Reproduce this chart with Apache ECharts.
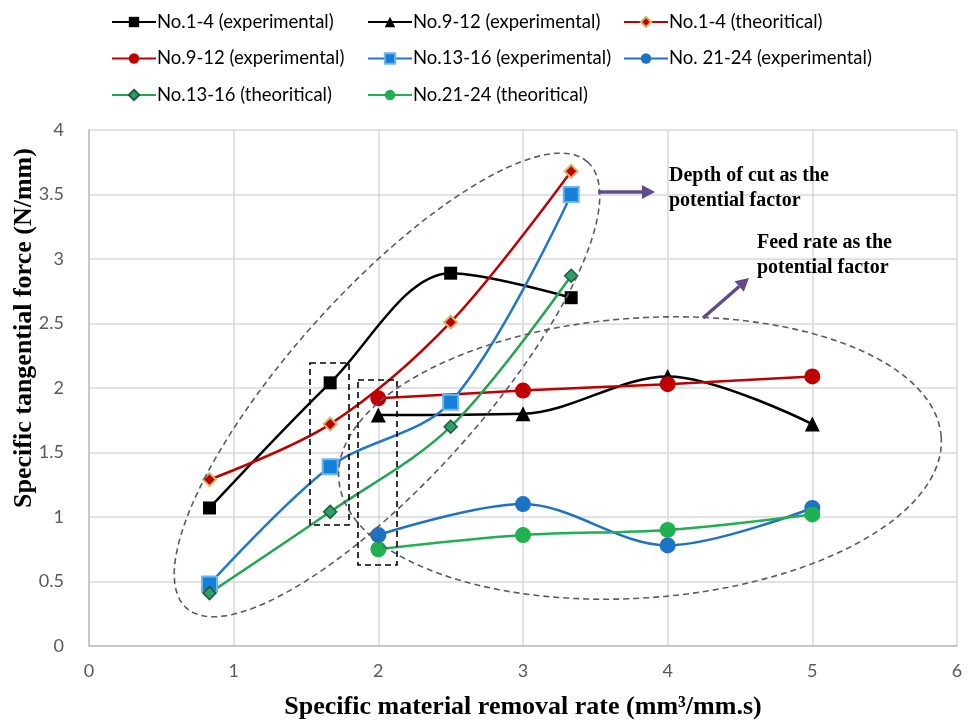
<!DOCTYPE html>
<html>
<head>
<meta charset="utf-8">
<script src="https://cdn.jsdelivr.net/npm/echarts@6/dist/echarts.min.js"></script>
<style>html,body{margin:0;padding:0;background:#fff}#c{width:973px;height:720px}</style>
</head>
<body>
<div id="c"></div>
<script>
// ---- data ----
var xTicks = [0, 1, 2, 3, 4, 5, 6];
var yTicks = [0, 0.5, 1, 1.5, 2, 2.5, 3, 3.5, 4];
var xDepth = [0.833, 1.667, 2.5, 3.333];
var xFeed = [2, 3, 4, 5];
var no1_4Exp = [1.07, 2.04, 2.89, 2.70];
var no9_12ExpA = [1.79, 1.80, 2.09, 1.72];
var no1_4Theo = [1.29, 1.72, 2.51, 3.68];
var no9_12ExpB = [1.92, 1.98, 2.03, 2.09];
var no13_16Exp = [0.48, 1.39, 1.89, 3.50];
var no21_24Exp = [0.86, 1.10, 0.78, 1.07];
var no13_16Theo = [0.41, 1.04, 1.70, 2.87];
var no21_24Theo = [0.75, 0.86, 0.90, 1.02];
var names = ['No.1-4 (experimental)', 'No.9-12 (experimental)', 'No.1-4 (theoritical)',
             'No.9-12 (experimental) ', 'No.13-16 (experimental)', 'No. 21-24 (experimental)',
             'No.13-16 (theoritical)', 'No.21-24 (theoritical)'];

function pairs(xs, ys) { return xs.map(function (x, i) { return [x, ys[i]]; }); }

function mkSeries(name, xs, ys, color, symbol, size, itemStyle) {
  return {
    name: name, type: 'line', smooth: 0.33, data: pairs(xs, ys),
    symbol: symbol, symbolSize: size,
    lineStyle: { color: color, width: 2.5 },
    itemStyle: Object.assign({ color: color }, itemStyle || {}),
    emphasis: { disabled: true }, z: 3
  };
}

function ellipse(cx, cy, a, b, deg) {
  var th = deg * Math.PI / 180, pts = [];
  for (var i = 0; i < 120; i++) {
    var t = i / 120 * Math.PI * 2;
    var ex = a * Math.cos(t), ey = b * Math.sin(t);
    pts.push([cx + ex * Math.cos(th) - ey * Math.sin(th), cy - (ex * Math.sin(th) + ey * Math.cos(th))]);
  }
  return pts;
}

function arrow(x1, y1, x2, y2, color) {
  var dx = x2 - x1, dy = y2 - y1, L = Math.sqrt(dx * dx + dy * dy);
  var ux = dx / L, uy = dy / L, hl = 13, hw = 7;
  var bx = x2 - ux * hl, by = y2 - uy * hl;
  return [
    { type: 'line', shape: { x1: x1, y1: y1, x2: bx, y2: by }, style: { stroke: color, lineWidth: 3.5 }, z: 20 },
    { type: 'polygon', shape: { points: [[x2, y2], [bx - uy * hw, by + ux * hw], [bx + uy * hw, by - ux * hw]] }, style: { fill: color }, z: 20 }
  ];
}

var chart = echarts.init(document.getElementById('c'), null, { renderer: 'canvas' });
var tickFont = { color: '#595959', fontSize: 18, fontFamily: 'Lato' };
var legendBase = {
  orient: 'vertical', top: 7, itemWidth: 44, itemHeight: 13, itemGap: 16.5,
  textStyle: { fontSize: 18.5, fontFamily: 'Lato', color: '#000', lineHeight: 20, padding: [0, 0, 0, -4] },
  formatter: function (n) { return n.trim(); },
  selectedMode: false
};
var purple = '#5F4B8B';
var graphics = [
  { type: 'polygon', shape: { points: ellipse(387, 385, 300, 95, 48) }, style: { fill: 'none', stroke: '#5A5870', lineWidth: 1.6, lineDash: [6, 4] }, z: 10 },
  { type: 'polygon', shape: { points: ellipse(640, 458, 302, 140, 4) }, style: { fill: 'none', stroke: '#5A5870', lineWidth: 1.6, lineDash: [6, 4] }, z: 10 },
  { type: 'rect', shape: { x: 310, y: 363, width: 39, height: 162 }, style: { fill: 'none', stroke: '#000', lineWidth: 1.6, lineDash: [6, 4] }, z: 10 },
  { type: 'rect', shape: { x: 358, y: 380, width: 39, height: 185 }, style: { fill: 'none', stroke: '#000', lineWidth: 1.6, lineDash: [6, 4] }, z: 10 },
  { type: 'text', x: 669, y: 163, style: { text: 'Depth of cut as the\npotential factor', font: 'bold 20px "Liberation Serif"', fill: '#000', lineHeight: 25 }, z: 20 },
  { type: 'text', x: 757, y: 230, style: { text: 'Feed rate as the\npotential factor', font: 'bold 20px "Liberation Serif"', fill: '#000', lineHeight: 25 }, z: 20 }
].concat(arrow(598, 192, 655, 192, purple)).concat(arrow(703, 318, 749, 278, purple));

chart.setOption({
  animation: false,
  backgroundColor: '#fff',
  grid: { left: 89, right: 16, top: 130, bottom: 74, containLabel: false, outerBoundsMode: 'none' },
  legend: [
    Object.assign({}, legendBase, { left: 106, data: [names[0], names[3], names[6]] }),
    Object.assign({}, legendBase, { left: 362, data: [names[1], names[4], names[7]] }),
    Object.assign({}, legendBase, { left: 618, data: [names[2], names[5]] })
  ],
  xAxis: {
    type: 'value', min: xTicks[0], max: xTicks[xTicks.length - 1], interval: 1,
    name: 'Specific material removal rate (mm³/mm.s)', nameLocation: 'middle', nameGap: 48,
    nameMoveOverlap: false,
    nameTextStyle: { fontFamily: 'Liberation Serif', fontWeight: 'bold', fontSize: 26, color: '#000' },
    axisLine: { lineStyle: { color: '#BFBFBF', width: 1.5 } }, axisTick: { show: false },
    axisLabel: Object.assign({ margin: 16 }, tickFont),
    splitLine: { lineStyle: { color: '#D9D9D9', width: 1.5 } }
  },
  yAxis: {
    type: 'value', min: yTicks[0], max: yTicks[yTicks.length - 1], interval: 0.5,
    name: 'Specific tangential force (N/mm)', nameLocation: 'middle', nameGap: 52,
    nameMoveOverlap: false,
    nameTextStyle: { fontFamily: 'Liberation Serif', fontWeight: 'bold', fontSize: 26, color: '#000', padding: [0, 0, 0, 120] },
    axisLine: { show: true, lineStyle: { color: '#BFBFBF', width: 1.5 } }, axisTick: { show: false },
    axisLabel: Object.assign({ margin: 25 }, tickFont),
    splitLine: { lineStyle: { color: '#D9D9D9', width: 1.5 } }
  },
  series: [
    mkSeries(names[0], xDepth, no1_4Exp, '#000000', 'rect', 13),
    mkSeries(names[1], xFeed, no9_12ExpA, '#000000', 'triangle', 15),
    mkSeries(names[2], xDepth, no1_4Theo, '#C00000', 'diamond', 13, { borderColor: '#D6B56C', borderWidth: 2 }),
    mkSeries(names[3], xFeed, no9_12ExpB, '#C00000', 'circle', 16),
    mkSeries(names[4], xDepth, no13_16Exp, '#1F78C8', 'rect', 15, { color: '#1580D8', borderColor: '#6DB6EA', borderWidth: 2 }),
    mkSeries(names[5], xFeed, no21_24Exp, '#1C72C4', 'circle', 16),
    mkSeries(names[6], xDepth, no13_16Theo, '#21A650', 'diamond', 13, { color: '#2E9E6A', borderColor: '#1B5C3C', borderWidth: 1.5 }),
    mkSeries(names[7], xFeed, no21_24Theo, '#1FB04F', 'circle', 16)
  ],
  graphic: graphics
});
</script>
</body>
</html>
